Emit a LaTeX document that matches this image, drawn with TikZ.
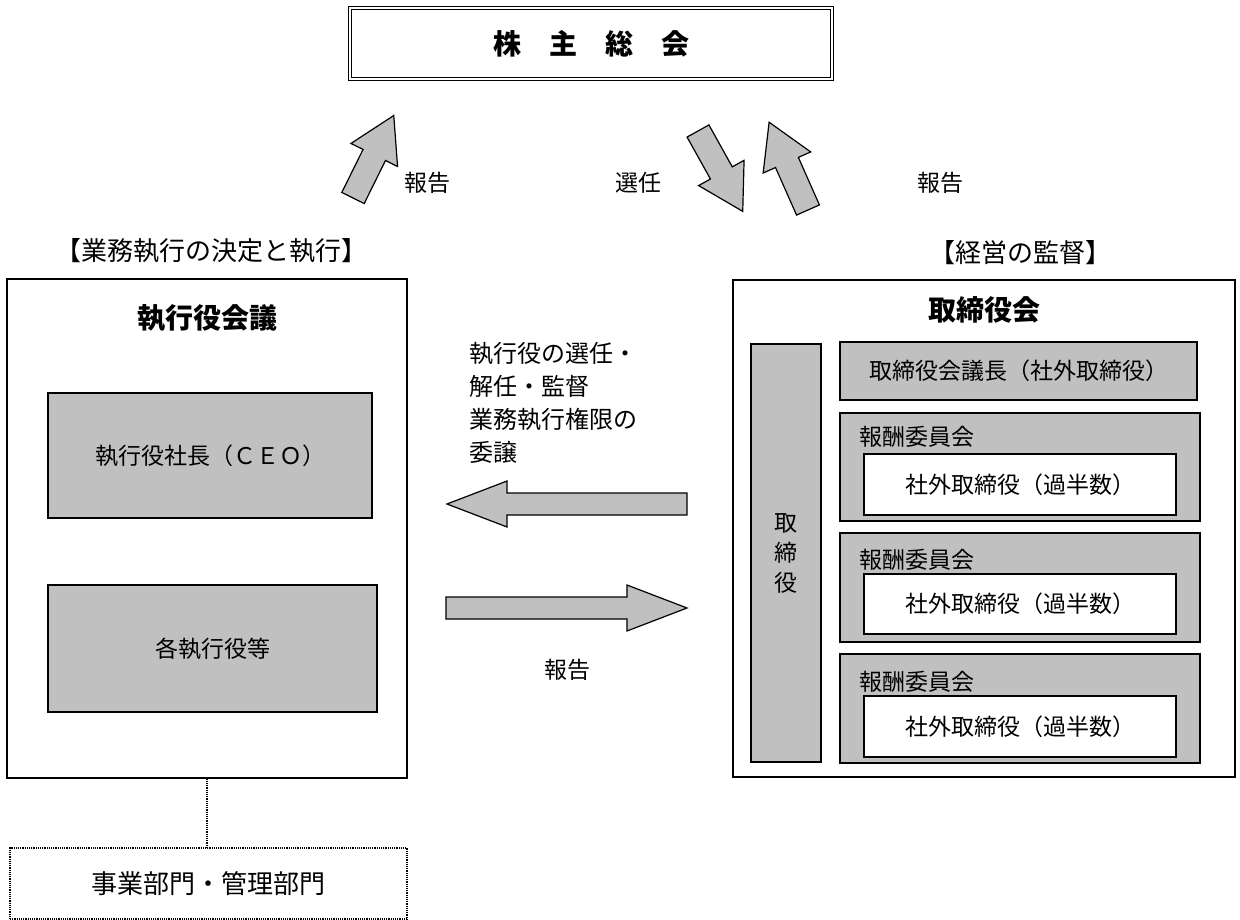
\documentclass[tikz,border=0pt]{standalone}
\usepackage{fontspec}
\setmainfont{Noto Sans CJK JP}
\usetikzlibrary{positioning}
\definecolor{boxgray}{HTML}{C0C0C0}
\tikzset{
  pics/blockarrow/.style n args={4}{code={
    \draw[fill=boxgray,line width=1.2pt,line join=miter]
      (0,-#2/2) -- (#1-#4,-#2/2) -- (#1-#4,-#3/2) -- (#1,0)
      -- (#1-#4,#3/2) -- (#1-#4,#2/2) -- (0,#2/2) -- cycle;}}
}

\begin{document}
\begin{tikzpicture}[x=1pt,y=-1pt,
  every node/.style={font=\fontsize{23}{28}\selectfont, inner sep=0pt},
  topbox/.style={draw, double, double distance=2pt, line width=0.8pt},
  outerbox/.style={draw, line width=1.3pt},
  graybox/.style={draw, fill=boxgray, line width=2pt},
  whitebox/.style={draw, fill=white, line width=2pt},
  deptbox/.style={draw, densely dotted, line width=1.2pt},
  title/.style={font=\fontsize{28}{34}\selectfont\bfseries}]
\useasboundingbox (0,0) rectangle (1240,920);

% shareholders
\node[topbox, minimum width=482, minimum height=71, title] (gm) at (591,43.5)
  {株\hspace{1em}主\hspace{1em}総\hspace{1em}会};

% arrows to and from the meeting
\pic[rotate=63.7] at (353,198) {blockarrow={92}{25}{52}{44}};
\pic[rotate=-60.9] at (698,131) {blockarrow={92}{25}{52}{44}};
\pic[rotate=113.9] at (808,210) {blockarrow={96}{25}{52}{44}};
\node (rep1) at (427,183) {報告};
\node (elect) at (638,183) {選任};
\node (rep2) at (940,183) {報告};

% executive side
\node[font=\fontsize{26}{30}\selectfont] (execlbl) at (211,251) {【業務執行の決定と執行】};
\node[outerbox, minimum width=400, minimum height=499] (execbd) at (207,528.5) {};
\node[title] (exectitle) at (207,318) {執行役会議};
\node[graybox, minimum width=324, minimum height=125] (ceo) at (210,455.5) {執行役社長（ＣＥＯ）};
\node[graybox, minimum width=329, minimum height=127] (officers) at (212.5,648.5) {各執行役等};
\node[deptbox, minimum width=397, minimum height=71, font=\fontsize{26}{30}\selectfont] (dept) at (208.5,883.5) {事業部門・管理部門};
\draw[densely dotted, line width=1.2pt] (execbd.south) -- (execbd.south |- dept.north);

% board side
\node[font=\fontsize{26}{30}\selectfont] (boardlbl) at (1020,253) {【経営の監督】};
\node[outerbox, minimum width=502, minimum height=497] (board) at (984,528.5) {};
\node[title] (boardtitle) at (984,310) {取締役会};
\node[graybox, minimum width=70, minimum height=418, align=center,
  font=\fontsize{23}{30}\selectfont] (directors) at (786,553) {取\\締\\役};
\node[graybox, minimum width=357, minimum height=58] (chair) at (1018.5,371) {取締役会議長（社外取締役）};

\node[graybox, minimum width=360, minimum height=108] (comm1) at (1020,467) {};
\node[anchor=west] (comm1lbl) at (859,437) {報酬委員会};
\node[whitebox, minimum width=312, minimum height=61] (out1) at (1020,484.5) {社外取締役（過半数）};

\node[graybox, minimum width=360, minimum height=109] (comm2) at (1020,587.5) {};
\node[anchor=west] (comm2lbl) at (859,560) {報酬委員会};
\node[whitebox, minimum width=312, minimum height=60] (out2) at (1020,604) {社外取締役（過半数）};

\node[graybox, minimum width=360, minimum height=109] (comm3) at (1020,708.5) {};
\node[anchor=west] (comm3lbl) at (859,682) {報酬委員会};
\node[whitebox, minimum width=312, minimum height=61] (out3) at (1020,726.5) {社外取締役（過半数）};

% between the two sides
\node[anchor=west, align=left, font=\fontsize{24}{33}\selectfont] (duties) at (469,403)
  {執行役の選任・\\解任・監督\\業務執行権限の\\委譲};
\pic[rotate=180] at (687,504) {blockarrow={240}{22}{46}{60}};
\pic at (446,608) {blockarrow={241}{22}{46}{60}};
\node (rep3) at (567,670) {報告};
\end{tikzpicture}
\end{document}
